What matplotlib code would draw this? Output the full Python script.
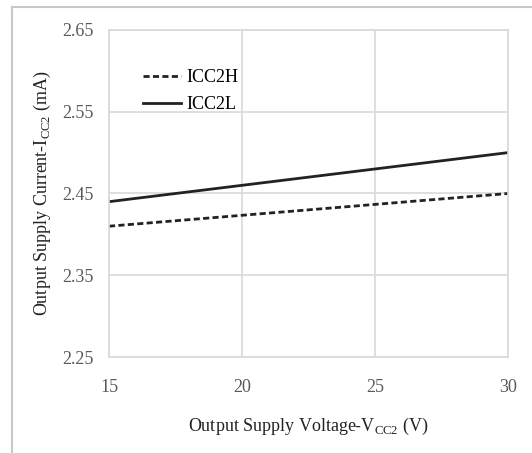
import matplotlib
matplotlib.use("Agg")
import matplotlib.pyplot as plt
from matplotlib.lines import Line2D

plt.rcParams['font.family'] = ['Liberation Serif', 'DejaVu Serif']
plt.rcParams['mathtext.fontset'] = 'custom'
plt.rcParams['mathtext.rm'] = 'Liberation Serif'

voltage = [15, 30]
icc2h = [2.41, 2.45]
icc2l = [2.44, 2.50]
x_ticks = [15, 20, 25, 30]
y_ticks = [2.25, 2.35, 2.45, 2.55, 2.65]

fig = plt.figure(figsize=(5.32, 4.53), dpi=100)
ax = fig.add_axes([109/532, 1-357/453, (508-109)/532, (357-30)/453])

grid_c = '#d9d9d9'
ax.plot(voltage, icc2h, color='#222222', lw=2.0, ls=(0, (2.2, 1.2)), label='ICC2H')
ax.plot(voltage, icc2l, color='#222222', lw=2.0, ls='-', label='ICC2L')

ax.set_xlim(15, 30)
ax.set_ylim(2.25, 2.65)
ax.set_xticks(x_ticks)
ax.set_yticks(y_ticks)
ax.set_yticklabels([f'{v:.2f}' for v in y_ticks])
ax.grid(True, color=grid_c, lw=1.2)
ax.set_axisbelow(True)
for s in ax.spines.values():
    s.set_color(grid_c)
    s.set_linewidth(1.2)
ax.tick_params(axis='y', length=0, labelsize=13, labelcolor='#595959', pad=11)
ax.tick_params(axis='x', length=0, labelsize=13, labelcolor='#595959', pad=16)

ax.set_xlabel(r'Output Supply Voltage-V$_{\mathregular{CC2}}$ (V)', fontsize=13, color='#222222', labelpad=14)
ax.set_ylabel(r'Output Supply Current-I$_{\mathregular{CC2}}$ (mA)', fontsize=13, color='#222222', labelpad=7)

ax.legend(loc='upper left', bbox_to_anchor=(0.045, 0.93), frameon=False, fontsize=13,
          handlelength=2.1, handletextpad=0.3, labelspacing=0.55)

# figure border (top and left visible)
fig.add_artist(Line2D([12/532, 1], [1-7/453, 1-7/453], color='#c8c8c8', lw=1.5, transform=fig.transFigure))
fig.add_artist(Line2D([12/532, 12/532], [0, 1-7/453], color='#c8c8c8', lw=1.5, transform=fig.transFigure))

fig.savefig('out.png', dpi=100, facecolor='white')
